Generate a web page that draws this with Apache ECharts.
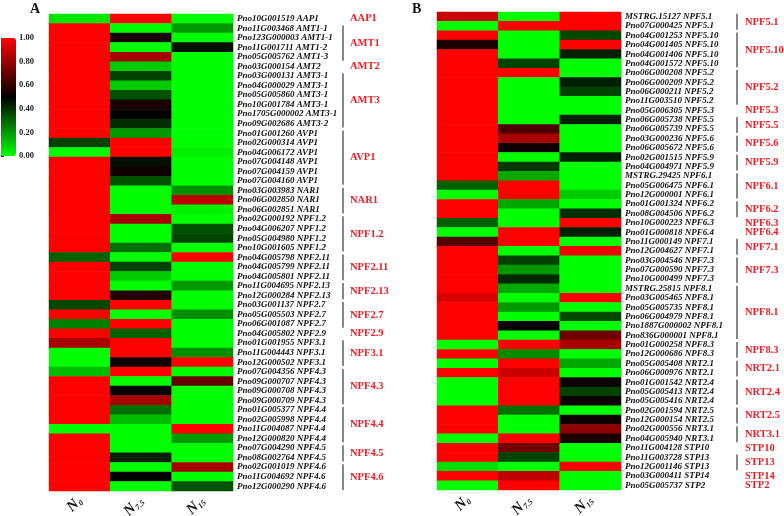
<!DOCTYPE html>
<html>
<head>
<meta charset="utf-8">
<script src="https://cdn.jsdelivr.net/npm/echarts@6/dist/echarts.min.js"></script>
<style>
  html, body { margin: 0; background: #fff; }
  #main { width: 784px; height: 516px; }
</style>
</head>
<body>
<div id="main"></div>
<script>
// columns of both heatmaps
const columns = ['N0', 'N7.5', 'N15']

// panel A
const genesA = [
  'Pno10G001519 AAP1', 'Pno11G003468 AMT1-1', 'Pno123G000003 AMT1-1', 'Pno11G001711 AMT1-2',
  'Pno05G005762 AMT1-3', 'Pno03G000154 AMT2', 'Pno03G000131 AMT3-1', 'Pno04G000029 AMT3-1',
  'Pno05G005860 AMT3-1', 'Pno10G001784 AMT3-1', 'Pno1705G000002 AMT3-1', 'Pno09G002686 AMT3-2',
  'Pno01G001260 AVP1', 'Pno02G000314 AVP1', 'Pno04G006172 AVP1', 'Pno07G004148 AVP1',
  'Pno07G004159 AVP1', 'Pno07G004160 AVP1', 'Pno03G003983 NAR1', 'Pno06G002850 NAR1',
  'Pno06G002851 NAR1', 'Pno02G000192 NPF1.2', 'Pno04G006207 NPF1.2', 'Pno05G004980 NPF1.2',
  'Pno10G001605 NPF1.2', 'Pno04G005798 NPF2.11', 'Pno04G005799 NPF2.11', 'Pno04G005801 NPF2.11',
  'Pno11G004695 NPF2.13', 'Pno12G000284 NPF2.13', 'Pno03G001137 NPF2.7', 'Pno05G005503 NPF2.7',
  'Pno06G001087 NPF2.7', 'Pno04G005802 NPF2.9', 'Pno01G001955 NPF3.1', 'Pno11G004443 NPF3.1',
  'Pno12G000502 NPF3.1', 'Pno07G004356 NPF4.3', 'Pno09G000707 NPF4.3', 'Pno09G000708 NPF4.3',
  'Pno09G000709 NPF4.3', 'Pno01G005377 NPF4.4', 'Pno02G005998 NPF4.4', 'Pno11G004087 NPF4.4',
  'Pno12G000820 NPF4.4', 'Pno07G004290 NPF4.5', 'Pno08G002764 NPF4.5', 'Pno02G001019 NPF4.6',
  'Pno11G004692 NPF4.6', 'Pno12G000290 NPF4.6'
]
const a_N0 = [
  0.05, 1, 1, 1, 1, 1, 1, 1, 1, 1,
  1, 1, 1, 0.37, 0, 1, 1, 1, 1, 1,
  1, 1, 1, 1, 1, 0.31, 1, 1, 1, 1,
  0.36, 1, 0.25, 1, 0.83, 0, 0, 0.13, 1, 1,
  1, 1, 1, 0, 1, 1, 1, 1, 1, 1
]
const a_N75 = [
  1, 0, 0.55, 0, 0.83, 0.1, 0.37, 0.1, 0.34, 0.55,
  0.5, 0.41, 0.2, 1, 1, 0.47, 0.53, 0.34, 0, 0,
  0, 0.83, 0, 0, 0.28, 0, 0.37, 0.1, 0, 0.57,
  1, 0, 1, 0.31, 1, 1, 0.53, 1, 0, 0.5,
  0.83, 0.28, 0.13, 0, 0, 0, 0.44, 0, 0.5, 0
]
const a_N15 = [
  0, 0.2, 0, 0.47, 0, 0, 0, 0, 0, 0,
  0, 0, 0, 0, 0.03, 0, 0, 0, 0.22, 0.87,
  0.03, 0, 0.34, 0.37, 0, 1, 0, 0, 0.2, 0,
  0, 0.22, 0, 0, 0, 0.22, 1, 0, 0.7, 0,
  0, 0, 0, 1, 0.2, 0, 0, 0.83, 0, 0.34
]
const groupNameA = ['AAP1', 'AMT1', 'AMT2', 'AMT3', 'AVP1', 'NAR1', 'NPF1.2', 'NPF2.11', 'NPF2.13',
  'NPF2.7', 'NPF2.9', 'NPF3.1', 'NPF4.3', 'NPF4.4', 'NPF4.5', 'NPF4.6']
const groupStartA = [0, 1, 5, 6, 12, 18, 21, 25, 28, 30, 33, 34, 37, 41, 45, 47]
const groupEndA = [0, 4, 5, 11, 17, 20, 24, 27, 29, 32, 33, 36, 40, 44, 46, 49]

// panel B
const genesB = [
  'MSTRG.15127 NPF5.1', 'Pno07G000425 NPF5.1', 'Pno04G001253 NPF5.10', 'Pno04G001405 NPF5.10',
  'Pno04G001406 NPF5.10', 'Pno04G001572 NPF5.10', 'Pno06G000208 NPF5.2', 'Pno06G000209 NPF5.2',
  'Pno06G000211 NPF5.2', 'Pno11G003510 NPF5.2', 'Pno05G006305 NPF5.3', 'Pno06G005738 NPF5.5',
  'Pno06G005739 NPF5.5', 'Pno03G000236 NPF5.6', 'Pno06G005672 NPF5.6', 'Pno02G001515 NPF5.9',
  'Pno04G004971 NPF5.9', 'MSTRG.29425 NPF6.1', 'Pno05G006475 NPF6.1', 'Pno12G000001 NPF6.1',
  'Pno01G001324 NPF6.2', 'Pno08G004506 NPF6.2', 'Pno10G000223 NPF6.3', 'Pno01G000818 NPF6.4',
  'Pno11G000149 NPF7.1', 'Pno12G004627 NPF7.1', 'Pno03G004546 NPF7.3', 'Pno07G000590 NPF7.3',
  'Pno10G000499 NPF7.3', 'MSTRG.25815 NPF8.1', 'Pno03G005465 NPF8.1', 'Pno05G005735 NPF8.1',
  'Pno06G004979 NPF8.1', 'Pno1887G000002 NPF8.1', 'Pno836G000001 NPF8.1', 'Pno01G000258 NPF8.3',
  'Pno12G000686 NPF8.3', 'Pno05G005408 NRT2.1', 'Pno06G000976 NRT2.1', 'Pno01G001542 NRT2.4',
  'Pno05G005413 NRT2.4', 'Pno05G005416 NRT2.4', 'Pno02G001594 NRT2.5', 'Pno12G000154 NRT2.5',
  'Pno02G000556 NRT3.1', 'Pno04G005940 NRT3.1', 'Pno11G004128 STP10', 'Pno11G003728 STP13',
  'Pno12G001146 STP13', 'Pno03G000411 STP14', 'Pno05G005737 STP2'
]
const b_N0 = [
  0.9, 0, 1, 0.55, 1, 1, 1, 1, 1, 1,
  1, 1, 1, 1, 1, 1, 1, 1, 0.31, 0,
  1, 1, 0.31, 0, 0.67, 1, 1, 1, 1, 1,
  0.93, 1, 1, 1, 1, 0, 1, 0, 1, 0,
  0, 0, 1, 1, 1, 0, 1, 1, 0.07, 1,
  0
]
const b_N75 = [
  0, 1, 0, 0, 0, 0.37, 1, 0, 0, 0,
  0, 0, 0.65, 0.83, 0.53, 0, 0.39, 0.17, 1, 1,
  0.17, 0, 0, 1, 1, 0, 0.37, 0.2, 0.42, 0.17,
  0, 0.2, 0, 0.5, 0, 1, 0.23, 1, 0.9, 1,
  1, 1, 0.28, 0, 0, 1, 0.72, 0.37, 0, 0.87,
  1
]
const b_N15 = [
  1, 1, 0.36, 1, 0.44, 0, 0, 0.44, 0.37, 0,
  0, 0.44, 0, 0, 0, 0.44, 0, 0, 0, 0.1,
  0, 0.41, 1, 0.44, 0, 0.97, 0, 0, 0, 0,
  1, 0, 0.36, 0, 0.72, 0.83, 0, 0.17, 0, 0.52,
  0.37, 0.53, 0, 0.53, 0.78, 0.55, 0, 0, 1, 0,
  0
]
const groupNameB = ['NPF5.1', 'NPF5.10', 'NPF5.2', 'NPF5.3', 'NPF5.5', 'NPF5.6', 'NPF5.9', 'NPF6.1',
  'NPF6.2', 'NPF6.3', 'NPF6.4', 'NPF7.1', 'NPF7.3', 'NPF8.1', 'NPF8.3', 'NRT2.1', 'NRT2.4',
  'NRT2.5', 'NRT3.1', 'STP10', 'STP13', 'STP14', 'STP2']
const groupStartB = [0, 2, 6, 10, 11, 13, 15, 17, 20, 22, 23, 24, 26, 29, 35, 37, 39, 42, 44, 46, 47, 49, 50]
const groupEndB = [1, 5, 9, 10, 12, 14, 16, 19, 21, 22, 23, 25, 28, 34, 36, 38, 41, 43, 45, 46, 48, 49, 50]

// colour bar ticks
const scaleTicks = [0, 0.2, 0.4, 0.6, 0.8, 1]

const serif = '"Liberation Serif", "Times New Roman", serif'
const red = '#ee1c24'

function cells(cols) {
  const out = []
  cols.forEach((col, c) => {
    col.forEach((v, r) => out.push([c, r, v]))
  })
  return out
}

function brackets(names, lineDx, labelDx) {
  return function (params, api) {
    const s = api.value(1)
    const e = api.value(2)
    const h = api.size([0, 1])[1]
    const right = params.coordSys.x + params.coordSys.width
    const pTop = api.coord([0, s])
    const pBot = api.coord([0, e])
    const children = []
    let mid = pTop[1]
    if (e > s) {
      const y1 = pTop[1] - 0.3 * h
      const y2 = pBot[1] + 0.4 * h
      mid = (y1 + y2) / 2
      children.push({
        type: 'line',
        shape: { x1: right + lineDx, y1: y1, x2: right + lineDx, y2: y2 },
        style: { stroke: '#555', lineWidth: 1.4 }
      })
    }
    children.push({
      type: 'text',
      style: {
        text: names[params.dataIndex],
        x: right + labelDx,
        y: mid,
        fill: red,
        font: 'bold 10.5px ' + serif,
        align: 'left',
        verticalAlign: 'middle'
      }
    })
    return { type: 'group', children: children }
  }
}

function groupData(starts, ends) {
  return starts.map((s, i) => [0, s, ends[i]])
}

function colLabel(v) {
  return '{n|N}{s|' + v.slice(1) + '}'
}

const xAxisBase = {
  type: 'category',
  data: columns,
  position: 'bottom',
  axisLine: { show: false },
  axisTick: { show: false },
  splitLine: { show: false },
  axisLabel: {
    interval: 0,
    rotate: 45,
    margin: 8,
    formatter: colLabel,
    rich: {
      n: { fontFamily: serif, fontWeight: 'bold', fontStyle: 'italic', fontSize: 15, color: '#111', lineHeight: 16 },
      s: { fontFamily: serif, fontWeight: 'bold', fontStyle: 'italic', fontSize: 8, color: '#111', verticalAlign: 'bottom', lineHeight: 16 }
    }
  }
}

function yAxisGenes(genes, grid) {
  return {
    type: 'category',
    gridIndex: grid,
    data: genes,
    inverse: true,
    position: 'right',
    axisLine: { show: false },
    axisTick: { show: false },
    splitLine: { show: false },
    axisLabel: {
      interval: 0,
      margin: 4,
      fontFamily: serif,
      fontWeight: 'bold',
      fontStyle: 'italic',
      fontSize: 9,
      color: '#111'
    }
  }
}

const chart = echarts.init(document.getElementById('main'))
const option = {
  animation: false,
  backgroundColor: '#fff',
  grid: [
    { left: 49, top: 14, width: 184, height: 477, outerBoundsMode: 'none' },
    { left: 437, top: 12, width: 184, height: 478, outerBoundsMode: 'none' },
    { left: 1, top: 38, width: 15, height: 118, outerBoundsMode: 'none' }
  ],
  xAxis: [
    Object.assign({ gridIndex: 0 }, xAxisBase),
    Object.assign({ gridIndex: 1 }, xAxisBase),
    { type: 'value', gridIndex: 2, show: false }
  ],
  yAxis: [
    yAxisGenes(genesA, 0),
    yAxisGenes(genesB, 1),
    {
      type: 'value',
      gridIndex: 2,
      min: 0,
      max: 1,
      interval: 0.2,
      position: 'right',
      axisLine: { show: true, lineStyle: { color: '#333', width: 1 } },
      axisTick: { show: true, length: 3, lineStyle: { color: '#333' } },
      splitLine: { show: false },
      axisLabel: {
        margin: 3,
        fontFamily: serif,
        fontWeight: 'bold',
        fontSize: 8.5,
        color: '#222',
        formatter: v => (scaleTicks.indexOf(+v.toFixed(1)) >= 0 ? v.toFixed(2) : '')
      }
    }
  ],
  visualMap: {
    type: 'continuous',
    seriesIndex: [0, 1],
    min: 0,
    max: 1,
    calculable: false,
    orient: 'vertical',
    left: 1,
    top: 38,
    padding: 0,
    itemWidth: 15,
    itemHeight: 118,
    text: null,
    inRange: { color: ['#00ff00', '#000000', '#ff0000'] }
  },
  graphic: [
    { type: 'text', left: 30, top: 2, style: { text: 'A', font: 'bold 14px ' + serif, fill: '#111' } },
    { type: 'text', left: 412, top: 2, style: { text: 'B', font: 'bold 14px ' + serif, fill: '#111' } }
  ],
  series: [
    {
      type: 'heatmap',
      xAxisIndex: 0,
      yAxisIndex: 0,
      data: cells([a_N0, a_N75, a_N15]),
      emphasis: { disabled: true }
    },
    {
      type: 'heatmap',
      xAxisIndex: 1,
      yAxisIndex: 1,
      data: cells([b_N0, b_N75, b_N15]),
      emphasis: { disabled: true }
    },
    {
      type: 'custom',
      xAxisIndex: 0,
      yAxisIndex: 0,
      dimensions: ['x', 's', 'e'],
      encode: { x: 0, y: 1 },
      renderItem: brackets(groupNameA, 110, 117),
      data: groupData(groupStartA, groupEndA),
      silent: true
    },
    {
      type: 'custom',
      xAxisIndex: 1,
      yAxisIndex: 1,
      dimensions: ['x', 's', 'e'],
      encode: { x: 0, y: 1 },
      renderItem: brackets(groupNameB, 116, 124),
      data: groupData(groupStartB, groupEndB),
      silent: true
    }
  ]
}
chart.setOption(option)
</script>
</body>
</html>
